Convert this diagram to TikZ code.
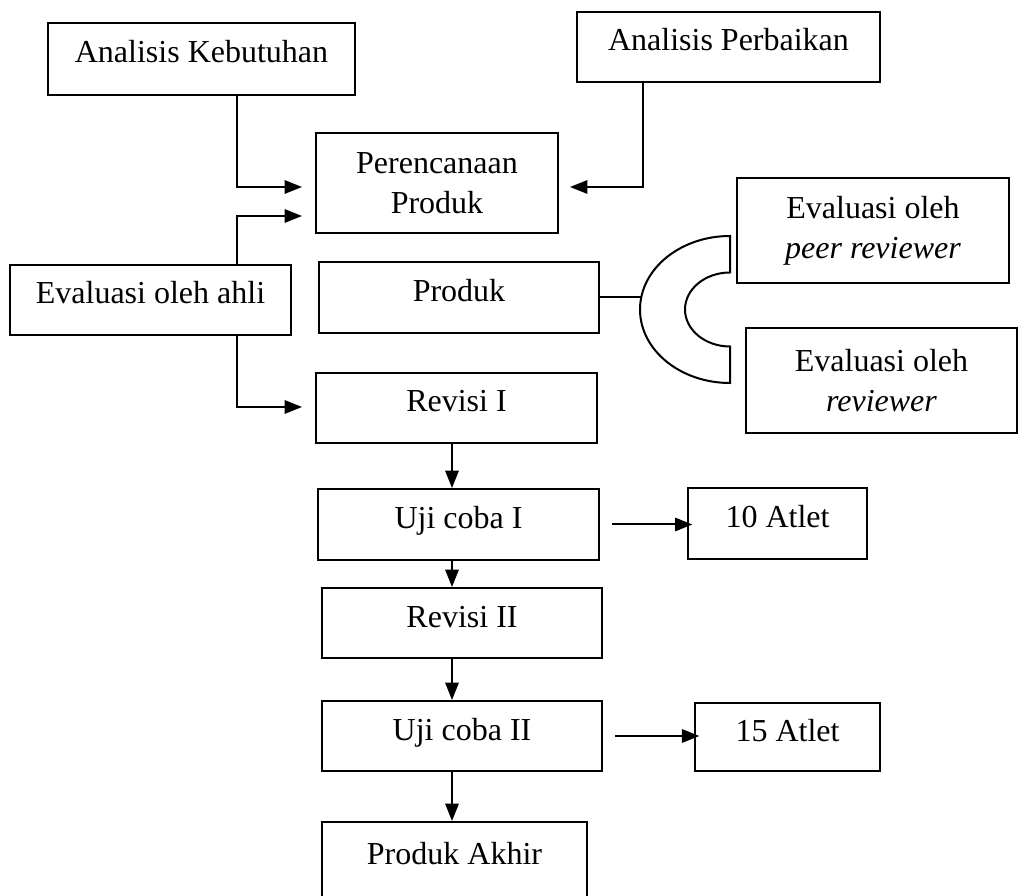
\documentclass[tikz,border=0pt]{standalone}
\usepackage{fontspec}
\setmainfont{Liberation Serif}
\usepackage{tikz}
\usetikzlibrary{arrows.meta}
\tikzset{
    box/.style = {draw,rectangle,inner sep=0,font=\fontsize{12}{15}\selectfont},
    onebox/.style = {box,text height=8pt,text depth=5pt},
    twobox/.style = {box,align=center},
    arr/.style = {-{Triangle[length=6.5pt,width=5pt]}}
}

\begin{document}
\begin{tikzpicture}[x=0.375pt,y=-0.375pt,line width=0.75pt]
        \useasboundingbox (0,0) rectangle (1018,896);
        % Input boxes
        \node[onebox,minimum width=115.1pt,minimum height=27pt] (kebutuhan) at (201.5,59) {Analisis Kebutuhan};
        \node[onebox,minimum width=113.6pt,minimum height=26.25pt] (perbaikan) at (728.5,47) {Analisis Perbaikan};
        \node[onebox,minimum width=105.4pt,minimum height=26.25pt] (ahli) at (150.5,300) {Evaluasi oleh ahli};
        % Main column
        \node[twobox,minimum width=90.75pt,minimum height=37.5pt] (perencanaan) at (437,183) {Perencanaan\\Produk};
        \node[onebox,minimum width=105pt,minimum height=26.6pt] (produk) at (459,297.5) {Produk};
        \node[onebox,minimum width=105.4pt,minimum height=26.25pt] (revisi1) at (456.5,408) {Revisi I};
        \node[onebox,minimum width=105.4pt,minimum height=26.6pt] (uji1) at (458.5,524.5) {Uji coba I};
        \node[onebox,minimum width=105pt,minimum height=26.25pt] (revisi2) at (462,623) {Revisi II};
        \node[onebox,minimum width=105pt,minimum height=26.25pt] (uji2) at (462,736) {Uji coba II};
        \node[onebox,minimum width=99.4pt,minimum height=28.5pt] (akhir) at (454.5,860) {Produk Akhir};
        % Reviewers
        \node[twobox,minimum width=102pt,minimum height=39.4pt] (peer) at (873,230.5) {Evaluasi oleh\\\textit{peer reviewer}};
        \node[twobox,minimum width=101.6pt,minimum height=39.4pt] (reviewer) at (881.5,380.5) {Evaluasi oleh\\\textit{reviewer}};
        % Subjects
        \node[onebox,minimum width=67.1pt,minimum height=26.6pt] (atlet10) at (777.5,523.5) {10 Atlet};
        \node[onebox,minimum width=69.4pt,minimum height=25.5pt] (atlet15) at (787.5,737) {15 Atlet};
        % Line positions
        \coordinate (trunk) at (237,0);
        \coordinate (drop) at (643,0);
        \coordinate (spine) at (452,0);
        \coordinate (arcL) at (641,0);
        \coordinate (pinA) at (302,187);
        \coordinate (pinB) at (302,216);
        \coordinate (pinC) at (302,407);
        \coordinate (pinD) at (570,187);
        % Bracket
        \draw (730,236) arc[start angle=270,end angle=90,x radius=90,y radius=73.5]
            -- (730,346.5) arc[start angle=90,end angle=270,x radius=45,y radius=37]
            -- cycle;
        \draw (produk.east) -- (produk.east -| arcL);
        % Inputs
        \draw[arr] (kebutuhan.south -| trunk) |- (pinA);
        \draw[arr] (ahli.north -| trunk) |- (pinB);
        \draw[arr] (ahli.south -| trunk) |- (pinC);
        \draw[arr] (perbaikan.south -| drop) |- (pinD);
        % Flow
        \foreach \src/\dest in {revisi1/uji1,uji1/revisi2,revisi2/uji2,uji2/akhir}
            \draw[arr] (\src.south -| spine) -- (\dest.north -| spine);
        \foreach \src/\dest in {uji1/atlet10,uji2/atlet15}
            \draw[arr] ([xshift=4.5pt]\src.east) -- ([xshift=2pt]\src.east -| \dest.west);
    \end{tikzpicture}
\end{document}
